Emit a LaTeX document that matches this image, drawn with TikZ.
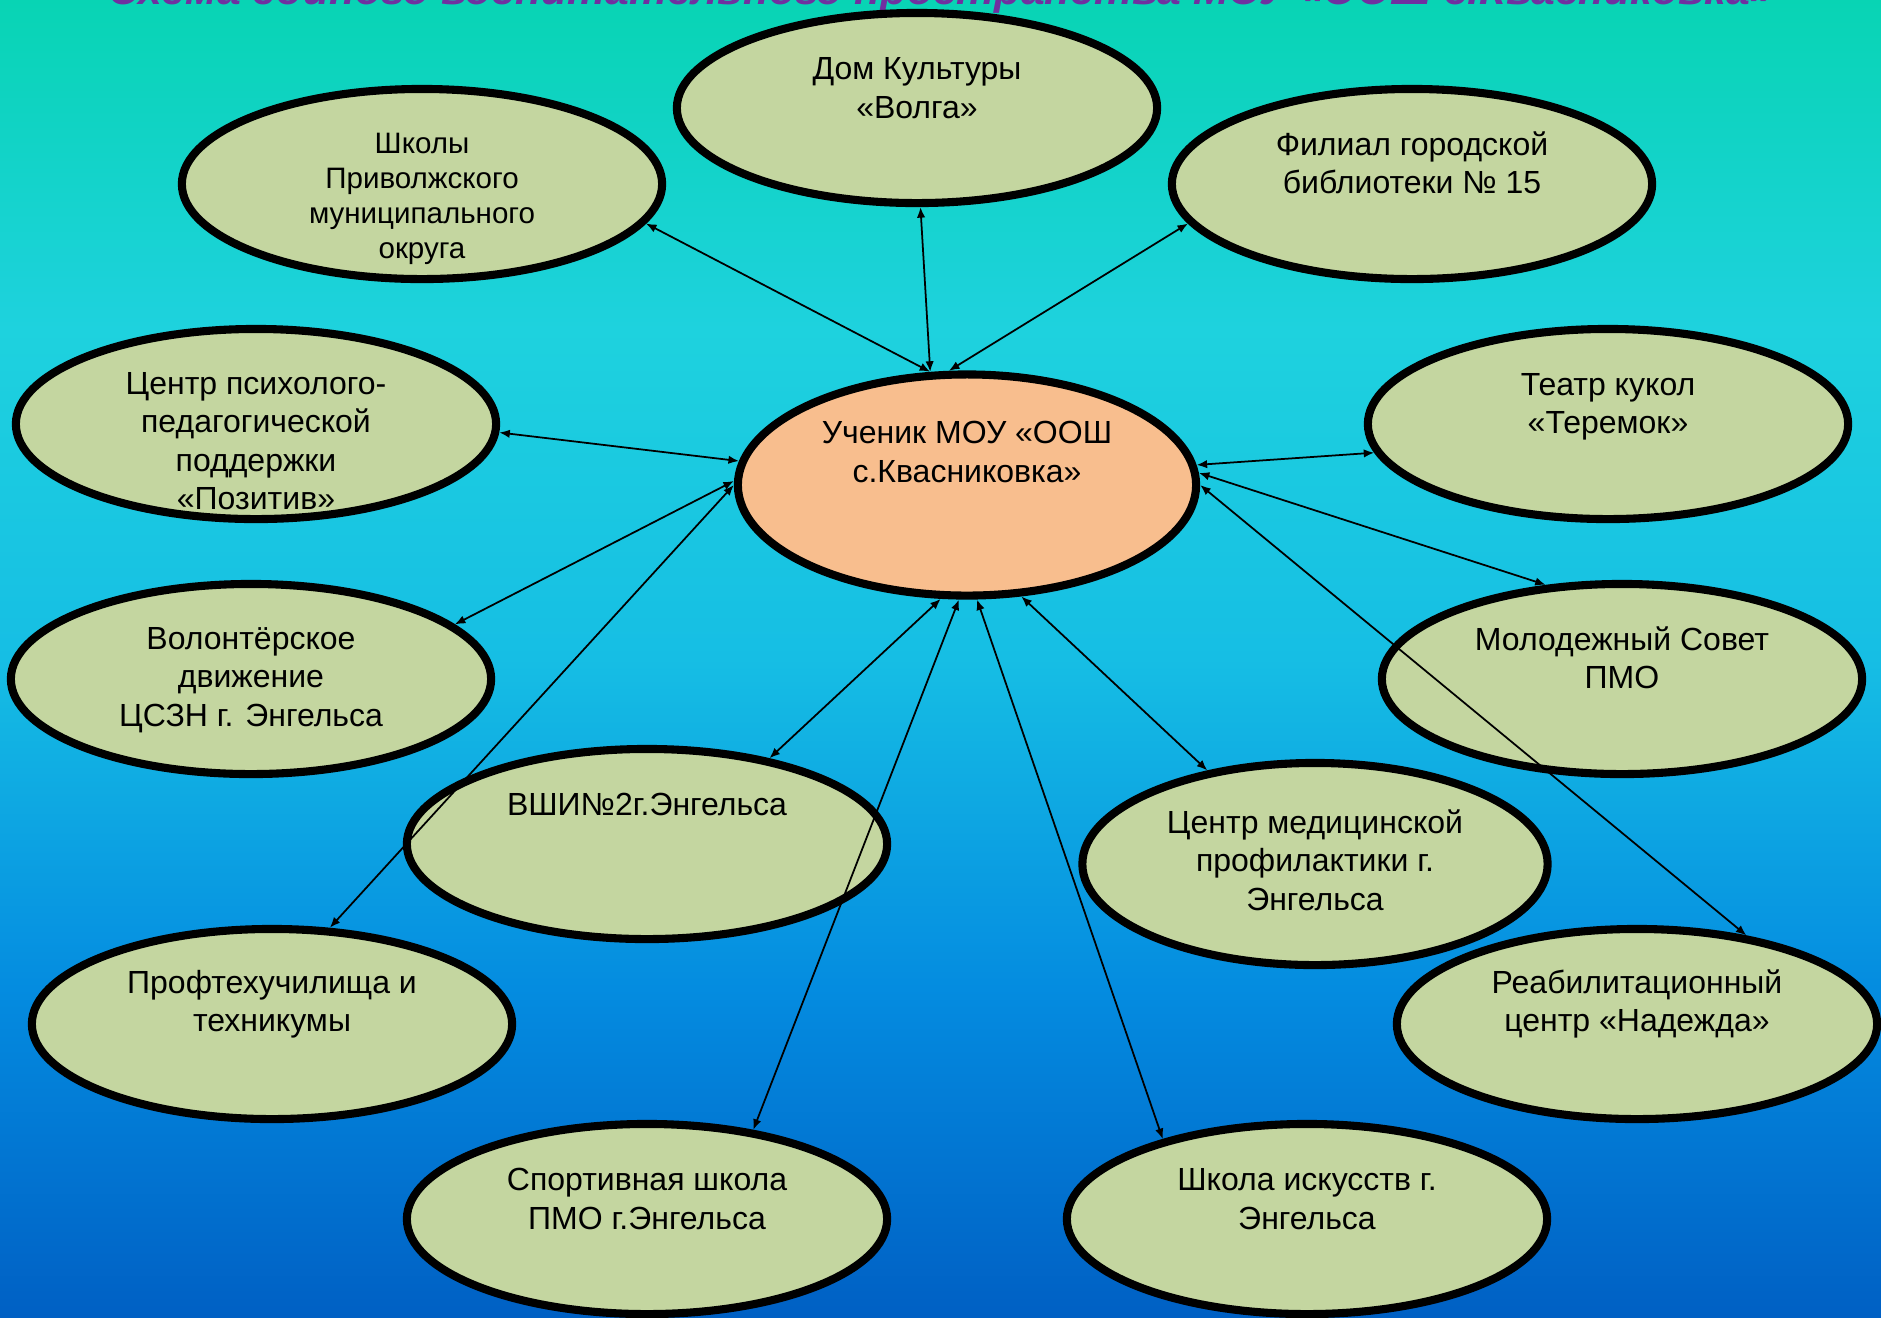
\documentclass[tikz,border=0pt]{standalone}
\usepackage{fontspec}
\setmainfont{Liberation Sans}
\usetikzlibrary{arrows.meta,shapes.geometric}

\definecolor{bgtop}{RGB}{8,212,180}
\definecolor{bgqa}{RGB}{30,210,222}
\definecolor{bgmid}{RGB}{22,190,228}
\definecolor{bgqb}{RGB}{4,140,224}
\definecolor{bgbot}{RGB}{0,96,196}
\definecolor{leaf}{RGB}{196,214,160}
\definecolor{peach}{RGB}{248,190,142}
\definecolor{plum}{RGB}{112,48,160}
\pgfdeclareverticalshading{seabg}{100bp}{color(0bp)=(bgbot); color(25bp)=(bgbot); color(37.5bp)=(bgqb); color(50bp)=(bgmid); color(62.5bp)=(bgqa); color(75bp)=(bgtop); color(100bp)=(bgtop)}

\tikzset{
  bubble/.style={ellipse, draw=black, line width=2.3pt, fill=leaf,
    minimum width=4.8cm, minimum height=1.9cm, inner sep=0pt},
  hub/.style={bubble, fill=peach, minimum width=4.58cm, minimum height=2.21cm},
  caption/.style={align=center, inner sep=0pt, font=\fontsize{9.1}{10.9}\selectfont},
  heading/.style={anchor=base, inner sep=0pt, text=plum,
    font=\fontsize{12.15}{14}\selectfont\bfseries\itshape},
  link/.style={{Latex[length=3pt,width=2.4pt]}-{Latex[length=3pt,width=2.4pt]}, line width=0.5pt}
}

\begin{document}
\begin{tikzpicture}[x=0.01cm,y=-0.01cm]
  \useasboundingbox (0,0) rectangle (1881,1317);
  \clip (0,0) rectangle (1881,1317);
  \shade[shading=seabg] (0,0) rectangle (1881,1317);

  % title, cut off at the top
  \node[heading] (title) at (941,4) {Схема единого воспитательного пространства МОУ «ООШ с.Квасниковка»};

  % partners
  \node[bubble] (dk) at (917,108) {};
  \node[caption] (dk-t) at (917,88) {Дом Культуры\\«Волга»};

  \node[bubble] (shk) at (422,184) {};
  \node[caption, font=\fontsize{8.4}{10}\selectfont] (shk-t) at (422,199) {Школы\\Приволжского\\муниципального\\округа};

  \node[bubble] (bib) at (1412,184) {};
  \node[caption] (bib-t) at (1412,163) {Филиал городской\\библиотеки № 15};

  \node[bubble] (psy) at (256,424) {};
  \node[caption] (psy-t) at (256,441) {Центр психолого-\\педагогической\\поддержки\\«Позитив»};

  \node[bubble] (teatr) at (1608,424) {};
  \node[caption] (teatr-t) at (1608,407) {Театр кукол\\«Теремок»};

  \node[bubble] (vol) at (251,679) {};
  \node[caption] (vol-t) at (251,680) {Волонтёрское\\движение\\ЦСЗН г. Энгельса};

  \node[bubble] (mol) at (1622,679) {};
  \node[caption] (mol-t) at (1622,658) {Молодежный Совет\\ПМО};

  \node[bubble] (vshi) at (647,844) {};
  \node[caption] (vshi-t) at (647,804) {ВШИ№2г.Энгельса};

  \node[bubble, minimum width=4.65cm, minimum height=2.02cm] (med) at (1315,864) {};
  \node[caption] (med-t) at (1315,860) {Центр медицинской\\профилактики г.\\Энгельса};

  \node[bubble] (prof) at (272,1024) {};
  \node[caption] (prof-t) at (272,1004) {Профтехучилища и\\техникумы};

  \node[bubble] (reab) at (1637,1024) {};
  \node[caption] (reab-t) at (1637,1004) {Реабилитационный\\центр «Надежда»};

  \node[bubble] (sport) at (647,1219) {};
  \node[caption] (sport-t) at (647,1199) {Спортивная школа\\ПМО г.Энгельса};

  \node[bubble] (isk) at (1307,1219) {};
  \node[caption] (isk-t) at (1307,1199) {Школа искусств г.\\Энгельса};

  % pupil
  \node[hub] (pupil) at (967,485) {};
  \node[caption] (pupil-t) at (967,452) {Ученик МОУ «ООШ\\с.Квасниковка»};

  % links
  \draw[link] (pupil.108) -- (dk.272);
  \draw[link] (pupil.108) -- (shk.350);
  \draw[link] (pupil.99) -- (bib.190);
  \draw[link] (pupil.174) -- (psy.358);
  \draw[link] (pupil.179) -- (vol.15);
  \draw[link] (pupil.180) -- (prof.59);
  \draw[link] (pupil.257) -- (vshi.35);
  \draw[link] (pupil.266) -- (sport.40);
  \draw[link] (pupil.275) -- (isk.151);
  \draw[link] (pupil.296) -- (med.139);
  \draw[link] (pupil.5) -- (teatr.187);
  \draw[link] (pupil.3) -- (mol.129);
  \draw[link] (pupil.0) -- (reab.39);
\end{tikzpicture}
\end{document}
